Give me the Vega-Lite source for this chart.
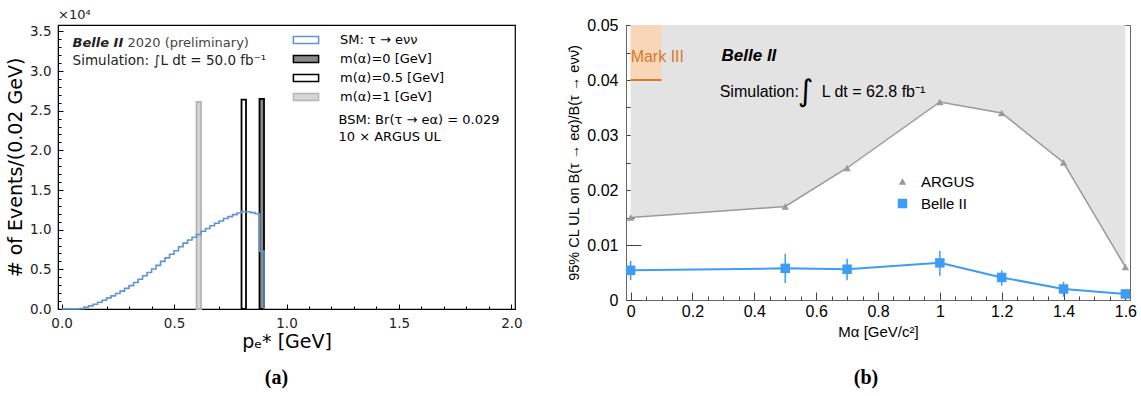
{
  "$schema": "https://vega.github.io/schema/vega-lite/v6.json",
  "background": "white",
  "padding": {"left": 5, "top": 8, "right": 5, "bottom": 5},
  "config": {"font": "DejaVu Sans", "view": {"stroke": null}, "axis": {"labelOverlap": false}},
  "spacing": 43,
  "resolve": {"scale": {"x": "independent", "y": "independent", "fill": "independent", "stroke": "independent", "color": "independent", "shape": "independent", "size": "independent"}, "legend": {"fill": "independent", "stroke": "independent", "color": "independent", "shape": "independent", "size": "independent"}},
  "datasets": {
    "sm": [
      {"p": 0.00, "n": 0}, {"p": 0.02, "n": 0}, {"p": 0.04, "n": 0}, {"p": 0.06, "n": 0},
      {"p": 0.08, "n": 50}, {"p": 0.10, "n": 200}, {"p": 0.12, "n": 400}, {"p": 0.14, "n": 600},
      {"p": 0.16, "n": 850}, {"p": 0.18, "n": 1100}, {"p": 0.20, "n": 1400}, {"p": 0.22, "n": 1650},
      {"p": 0.24, "n": 1950}, {"p": 0.26, "n": 2250}, {"p": 0.28, "n": 2600}, {"p": 0.30, "n": 2950},
      {"p": 0.32, "n": 3350}, {"p": 0.34, "n": 3750}, {"p": 0.36, "n": 4200}, {"p": 0.38, "n": 4600},
      {"p": 0.40, "n": 5050}, {"p": 0.42, "n": 5500}, {"p": 0.44, "n": 6000}, {"p": 0.46, "n": 6450},
      {"p": 0.48, "n": 6900}, {"p": 0.50, "n": 7350}, {"p": 0.52, "n": 7850}, {"p": 0.54, "n": 8300},
      {"p": 0.56, "n": 8700}, {"p": 0.58, "n": 9050}, {"p": 0.60, "n": 9400}, {"p": 0.62, "n": 9800},
      {"p": 0.64, "n": 10150}, {"p": 0.66, "n": 10500}, {"p": 0.68, "n": 10800}, {"p": 0.70, "n": 11100},
      {"p": 0.72, "n": 11400}, {"p": 0.74, "n": 11650}, {"p": 0.76, "n": 11900}, {"p": 0.78, "n": 12100},
      {"p": 0.80, "n": 12300}, {"p": 0.82, "n": 12250}, {"p": 0.84, "n": 12150}, {"p": 0.86, "n": 12000},
      {"p": 0.88, "n": 7300}, {"p": 0.90, "n": 0}
    ],
    "sig": [
      {"s": "m(α)=0 [GeV]", "x0": 0.88, "x1": 0.90, "n": 26500},
      {"s": "m(α)=0.5 [GeV]", "x0": 0.80, "x1": 0.82, "n": 26400},
      {"s": "m(α)=1 [GeV]", "x0": 0.60, "x1": 0.62, "n": 26100}
    ],
    "ul": [
      {"series": "ARGUS", "m": 0.0, "v": 0.015},
      {"series": "ARGUS", "m": 0.5, "v": 0.017},
      {"series": "ARGUS", "m": 0.7, "v": 0.024},
      {"series": "ARGUS", "m": 1.0, "v": 0.036},
      {"series": "ARGUS", "m": 1.2, "v": 0.034},
      {"series": "ARGUS", "m": 1.4, "v": 0.025},
      {"series": "ARGUS", "m": 1.6, "v": 0.006},
      {"series": "Belle II", "m": 0.0, "v": 0.0054, "lo": 0.0036, "hi": 0.0071},
      {"series": "Belle II", "m": 0.5, "v": 0.00575, "lo": 0.0031, "hi": 0.0084},
      {"series": "Belle II", "m": 0.7, "v": 0.0056, "lo": 0.0036, "hi": 0.0075},
      {"series": "Belle II", "m": 1.0, "v": 0.00675, "lo": 0.0044, "hi": 0.0089},
      {"series": "Belle II", "m": 1.2, "v": 0.0041, "lo": 0.0026, "hi": 0.0054},
      {"series": "Belle II", "m": 1.4, "v": 0.0020, "lo": 0.0006, "hi": 0.0033},
      {"series": "Belle II", "m": 1.6, "v": 0.0011, "lo": 0.0003, "hi": 0.0020}
    ]
  },
  "hconcat": [
    {
      "width": 457,
      "height": 284,
      "view": {"stroke": "black", "strokeWidth": 1.2},
      "title": {"text": "(a)", "orient": "bottom", "font": "Liberation Serif", "fontWeight": "bold", "fontSize": 20, "color": "black", "offset": 16, "dx": -10},
      "resolve": {"axis": {"x": "independent", "y": "independent"}},
      "layer": [
        {
          "layer": [
            {
              "data": {"name": "sig"},
              "mark": {"type": "bar", "strokeWidth": 1.8},
              "encoding": {
                "x": {"field": "x0", "type": "quantitative", "scale": {"domain": [-0.016, 2.016], "nice": false},
                  "axis": {"values": [0, 0.5, 1.0, 1.5, 2.0], "format": ".1f", "tickSize": -5,
                    "labelPadding": 12, "labelOverlap": false, "labelFont": "DejaVu Sans", "labelFontSize": 13.5, "labelColor": "#222",
                    "domainColor": "black", "tickColor": "black", "grid": false,
                    "title": "pₑ* [GeV]", "titleFont": "DejaVu Sans", "titleFontSize": 19, "titleFontWeight": "normal", "titleColor": "black", "titlePadding": 3}},
                "x2": {"field": "x1"},
                "y": {"field": "n", "type": "quantitative", "scale": {"domain": [0, 35800], "nice": false},
                  "axis": {"values": [0, 5000, 10000, 15000, 20000, 25000, 30000, 35000],
                    "labelExpr": "format(datum.value/10000, '.1f')", "tickSize": -5,
                    "labelPadding": 12, "labelOverlap": false, "labelFont": "DejaVu Sans", "labelFontSize": 13.5, "labelColor": "#222",
                    "domainColor": "black", "tickColor": "black", "grid": false,
                    "title": "# of Events/(0.02 GeV)", "titleFont": "DejaVu Sans", "titleFontSize": 19, "titleFontWeight": "normal", "titleColor": "black", "titlePadding": 4}},
                "y2": {"datum": 0},
                "fill": {"field": "s", "type": "nominal",
                  "scale": {"domain": ["SM: τ → eνν", "m(α)=0 [GeV]", "m(α)=0.5 [GeV]", "m(α)=1 [GeV]"], "range": ["white", "#8a8a8a", "white", "#d6d6d6"]},
                  "legend": {"orient": "none", "legendX": 240, "legendY": 7, "title": null, "padding": 0,
                    "symbolType": "M-1.8,-0.5H1.8V0.5H-1.8Z", "symbolSize": 196, "symbolStrokeWidth": 1.5,
                    "labelFont": "DejaVu Sans", "labelFontSize": 13, "labelColor": "black", "labelOffset": 26, "rowPadding": 4}},
                "stroke": {"field": "s", "type": "nominal",
                  "scale": {"domain": ["SM: τ → eνν", "m(α)=0 [GeV]", "m(α)=0.5 [GeV]", "m(α)=1 [GeV]"], "range": ["#5f93d8", "black", "black", "#b5b5b5"]}}
              }
            },
            {
              "data": {"name": "sm"},
              "mark": {"type": "line", "interpolate": "step-after", "color": "#5f93d8", "strokeWidth": 1.6},
              "encoding": {
                "x": {"field": "p", "type": "quantitative"},
                "y": {"field": "n", "type": "quantitative"}
              }
            },
            {
              "data": {"values": [{}]},
              "mark": {"type": "text", "text": "×10⁴", "align": "left", "baseline": "bottom", "dy": -3, "font": "DejaVu Sans", "fontSize": 13, "color": "#222"},
              "encoding": {"x": {"datum": -0.016}, "y": {"datum": 35800}}
            },
            {
              "data": {"values": [{}]},
              "mark": {"type": "text", "text": "Belle II", "align": "left", "baseline": "middle", "font": "DejaVu Sans", "fontSize": 13, "fontWeight": "bold", "fontStyle": "italic", "color": "#222"},
              "encoding": {"x": {"datum": 0.049}, "y": {"datum": 33500}}
            },
            {
              "data": {"values": [{}]},
              "mark": {"type": "text", "text": "2020 (preliminary)", "align": "left", "baseline": "middle", "font": "DejaVu Sans", "fontSize": 13, "color": "#444"},
              "encoding": {"x": {"datum": 0.293}, "y": {"datum": 33500}}
            },
            {
              "data": {"values": [{}]},
              "mark": {"type": "text", "text": "Simulation: ∫L dt  =  50.0 fb⁻¹", "align": "left", "baseline": "middle", "font": "DejaVu Sans", "fontSize": 13.5, "color": "#222"},
              "encoding": {"x": {"datum": 0.049}, "y": {"datum": 31250}}
            },
            {
              "data": {"values": [{}]},
              "mark": {"type": "text", "text": ["BSM: Br(τ → eα) = 0.029", "10 ×  ARGUS UL"], "align": "left", "baseline": "top", "lineHeight": 17, "font": "DejaVu Sans", "fontSize": 13, "color": "black"},
              "encoding": {"x": {"datum": 1.231}, "y": {"datum": 24600}}
            }
          ]
        },
        {
          "data": {"values": [{}]},
          "mark": {"type": "rule", "opacity": 0},
          "encoding": {
            "x": {"datum": 0, "type": "quantitative", "axis": {"orient": "bottom", "values": [0.1,0.2,0.3,0.4,0.6,0.7,0.8,0.9,1.1,1.2,1.3,1.4,1.6,1.7,1.8,1.9], "labels": false, "domain": false, "grid": false, "tickSize": -3, "tickColor": "black", "title": null}},
            "y": {"datum": 0, "type": "quantitative", "axis": {"orient": "left", "values": [1000,2000,3000,4000,6000,7000,8000,9000,11000,12000,13000,14000,16000,17000,18000,19000,21000,22000,23000,24000,26000,27000,28000,29000,31000,32000,33000,34000], "labels": false, "domain": false, "grid": false, "tickSize": -3, "tickColor": "black", "title": null}}
          }
        }
      ]
    },
    {
      "width": 504,
      "height": 275,
      "view": {"stroke": "#666", "strokeWidth": 1},
      "title": {"text": "(b)", "orient": "bottom", "font": "Liberation Serif", "fontWeight": "bold", "fontSize": 20, "color": "black", "offset": 29, "dx": -12},
      "resolve": {"axis": {"x": "independent", "y": "independent"}},
      "layer": [
        {
          "data": {"name": "ul"},
          "layer": [
            {
              "transform": [{"filter": "datum.series == 'ARGUS'"}],
              "mark": {"type": "area", "color": "#e3e3e3", "opacity": 1},
              "encoding": {
                "x": {"field": "m", "type": "quantitative", "scale": {"domain": [-0.015, 1.615], "nice": false},
                  "axis": {"values": [0, 0.2, 0.4, 0.6, 0.8, 1.0, 1.2, 1.4, 1.6], "format": ".1~f", "tickSize": -8,
                    "labelPadding": 11, "labelOverlap": false, "labelFont": "Liberation Sans", "labelFontSize": 16, "labelColor": "black",
                    "domainColor": "#666", "tickColor": "#444", "grid": false,
                    "title": "Mα [GeV/c²]", "titleFont": "Liberation Sans", "titleFontSize": 15, "titleFontWeight": "normal", "titleColor": "black", "titlePadding": 5}},
                "y": {"field": "v", "type": "quantitative", "scale": {"domain": [0, 0.05], "nice": false},
                  "axis": {"values": [0, 0.01, 0.02, 0.03, 0.04, 0.05],
                    "labelExpr": "datum.value == 0 ? '0' : format(datum.value, '.2f')", "tickSize": -15,
                    "labelPadding": 23, "labelOverlap": false, "labelFont": "Liberation Sans", "labelFontSize": 16, "labelColor": "black",
                    "domainColor": "#666", "tickColor": "#444", "grid": false,
                    "title": "95% CL UL on B(τ → eα)/B(τ → eνν̄)", "titleFont": "Liberation Sans", "titleFontSize": 14.5, "titleFontWeight": "normal", "titleColor": "black", "titlePadding": 5}},
                "y2": {"datum": 0.05}
              }
            },
            {
              "data": {"values": [{}]},
              "mark": {"type": "rect", "color": "#f7d7b8"},
              "encoding": {"x": {"datum": 0}, "x2": {"datum": 0.1}, "y": {"datum": 0.04}, "y2": {"datum": 0.05}}
            },
            {
              "data": {"values": [{}]},
              "mark": {"type": "rule", "color": "#d9782b", "strokeWidth": 2},
              "encoding": {"x": {"datum": 0}, "x2": {"datum": 0.1}, "y": {"datum": 0.04}}
            },
            {
              "data": {"values": [{}]},
              "mark": {"type": "text", "text": "Mark III", "align": "left", "baseline": "middle", "font": "Liberation Sans", "fontSize": 16, "color": "#d9782b"},
              "encoding": {"x": {"datum": 0.0}, "y": {"datum": 0.0441}}
            },
            {
              "transform": [{"filter": "datum.series == 'ARGUS'"}],
              "mark": {"type": "line", "color": "#9a9a9a", "strokeWidth": 1.5},
              "encoding": {"x": {"field": "m", "type": "quantitative"}, "y": {"field": "v", "type": "quantitative"}}
            },
            {
              "transform": [{"filter": "datum.series == 'Belle II'"}],
              "mark": {"type": "rule", "color": "#3d9df5", "strokeWidth": 1.5},
              "encoding": {"x": {"field": "m", "type": "quantitative"}, "y": {"field": "lo", "type": "quantitative"}, "y2": {"field": "hi"}}
            },
            {
              "transform": [{"filter": "datum.series == 'Belle II'"}],
              "mark": {"type": "line", "color": "#3d9df5", "strokeWidth": 2},
              "encoding": {"x": {"field": "m", "type": "quantitative"}, "y": {"field": "v", "type": "quantitative"}}
            },
            {
              "mark": {"type": "point", "filled": true, "opacity": 1},
              "encoding": {
                "x": {"field": "m", "type": "quantitative"},
                "y": {"field": "v", "type": "quantitative"},
                "color": {"field": "series", "type": "nominal", "scale": {"domain": ["ARGUS", "Belle II"], "range": ["#9a9a9a", "#3d9df5"]},
                  "legend": {"orient": "none", "legendX": 269, "legendY": 149, "title": null, "padding": 0,
                    "labelFont": "Liberation Sans", "labelFontSize": 15, "labelColor": "black", "labelOffset": 11, "rowPadding": 5, "symbolOpacity": 1}},
                "shape": {"field": "series", "type": "nominal", "scale": {"domain": ["ARGUS", "Belle II"], "range": ["triangle-up", "square"]}},
                "size": {"field": "series", "type": "nominal", "scale": {"domain": ["ARGUS", "Belle II"], "range": [55, 90]}}
              }
            },
            {
              "data": {"values": [{}]},
              "mark": {"type": "text", "text": "Belle II", "align": "left", "baseline": "middle", "font": "Liberation Sans", "fontSize": 17, "fontWeight": "bold", "fontStyle": "italic", "color": "black"},
              "encoding": {"x": {"datum": 0.294}, "y": {"datum": 0.0443}}
            },
            {
              "data": {"values": [{}]},
              "mark": {"type": "text", "text": "Simulation:", "align": "left", "baseline": "middle", "font": "Liberation Sans", "fontSize": 16, "color": "black"},
              "encoding": {"x": {"datum": 0.288}, "y": {"datum": 0.0379}}
            },
            {
              "data": {"values": [{}]},
              "mark": {"type": "text", "text": "∫", "align": "center", "baseline": "middle", "font": "DejaVu Sans", "fontSize": 30, "color": "black"},
              "encoding": {"x": {"datum": 0.566}, "y": {"datum": 0.0379}}
            },
            {
              "data": {"values": [{}]},
              "mark": {"type": "text", "text": "L dt = 62.8 fb⁻¹", "align": "left", "baseline": "middle", "font": "Liberation Sans", "fontSize": 16, "color": "black"},
              "encoding": {"x": {"datum": 0.618}, "y": {"datum": 0.0379}}
            }
          ]
        },
        {
          "data": {"values": [{}]},
          "mark": {"type": "rule", "opacity": 0},
          "encoding": {
            "x": {"datum": 0, "type": "quantitative", "axis": {"orient": "bottom", "values": [0.05,0.1,0.15,0.25,0.3,0.35,0.45,0.5,0.55,0.65,0.7,0.75,0.85,0.9,0.95,1.05,1.1,1.15,1.25,1.3,1.35,1.45,1.5,1.55], "labels": false, "domain": false, "grid": false, "tickSize": -4, "tickColor": "#444", "title": null}},
            "y": {"datum": 0, "type": "quantitative", "axis": {"orient": "left", "values": [0.005,0.015,0.025,0.035,0.045], "labels": false, "domain": false, "grid": false, "tickSize": -8, "tickColor": "#444", "title": null}}
          }
        }
      ]
    }
  ]
}
